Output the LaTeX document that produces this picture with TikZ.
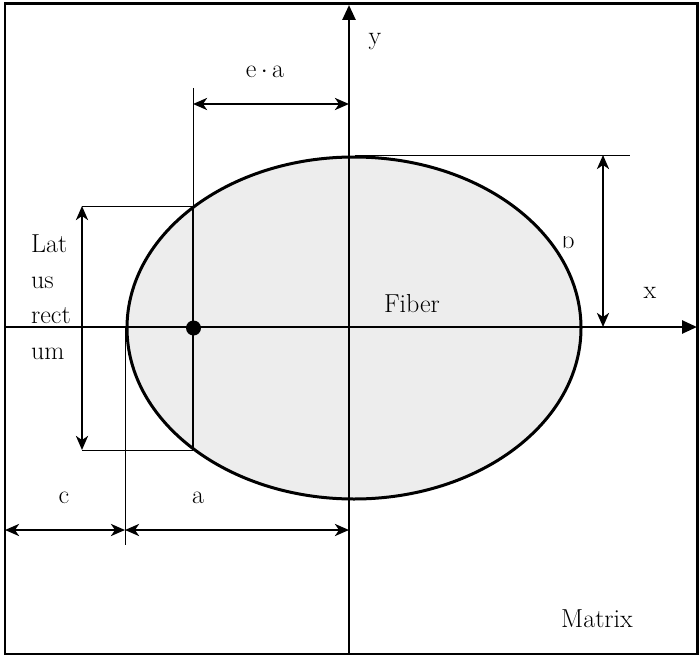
\documentclass[tikz,border=0pt]{standalone}
\usetikzlibrary{arrows.meta,shapes.geometric}
\begin{document}
\begin{tikzpicture}[x=1pt,y=-1pt,
  thick line/.style={line width=2.8pt},
  thin line/.style={line width=0.9pt},
  dimarrow/.style={line width=2.6pt,{Stealth[length=14pt,width=12pt,inset=4pt]}-{Stealth[length=14pt,width=12pt,inset=4pt]}},
  axis/.style={line width=2.6pt,-{Triangle[length=15pt,width=13pt]}},
  lbl/.style={font=\fontsize{26}{35.5}\selectfont,inner sep=0pt}]
\useasboundingbox (0,0) rectangle (700,658);
% frame
\draw[line width=2.8pt] (5,3.5) rectangle (697.5,654);
% fiber ellipse
\node[ellipse,draw,line width=3pt,fill={rgb,255:red,237;green,237;blue,237},
  minimum width=454pt,minimum height=342pt,inner sep=0pt] (fiber) at (354,328) {};
% coordinates
\coordinate (O) at (349,327);
\coordinate (xs) at (5,327);
\coordinate (xe) at (697,327);
\coordinate (ys) at (349,654);
\coordinate (ye) at (349,5);
\coordinate (F) at (193.5,328);
\coordinate (LRt) at (193,206);
\coordinate (LRb) at (193,450);
\coordinate (ext1) at (193,88);
\coordinate (ea1) at (193,104);
\coordinate (ea2) at (349,104);
\coordinate (lr1) at (82,206);
\coordinate (lr2) at (82,450);
\coordinate (cl) at (125,327);
\coordinate (clb) at (125,545);
\coordinate (c1) at (5,530);
\coordinate (c2) at (125,530);
\coordinate (a2) at (349,530);
\coordinate (bt) at (355,155);
\coordinate (bte) at (630,155);
\coordinate (b1) at (603,155);
\coordinate (b2) at (603,327);
% thin extension lines
\draw[thin line] (ext1) -- (LRt);
\draw[thin line] (lr1) -- (LRt);
\draw[thin line] (lr2) -- (LRb);
\draw[thin line] (cl) -- (clb);
\draw[thin line] (bt) -- (bte);
% latus rectum chord
\draw[thick line] (LRt) -- (LRb);
% axes
\draw[axis] (xs) -- (xe);
\draw[axis] (ys) -- (ye);
% focus
\fill (F) circle (7.5pt);
% dimension arrows
\draw[dimarrow] (ea1) -- (ea2);
\draw[dimarrow] (lr1) -- (lr2);
\draw[dimarrow] (c1) -- (c2);
\draw[dimarrow] (c2) -- (a2);
\draw[dimarrow] (b1) -- (b2);
% labels
\node[lbl,anchor=base] (lea) at (265,78) {e\,$\cdot$\,a};
\node[lbl,anchor=base] (ly) at (375,45) {y};
\node[lbl,anchor=base] (lx) at (650,298) {x};
\node[lbl,anchor=base] (lfib) at (412,312) {Fiber};
\node[lbl,anchor=base] (lmat) at (597,627) {Matrix};
\node[lbl,anchor=base] (lc) at (64,503) {c};
\node[lbl,anchor=base] (la) at (198,503) {a};
\node[lbl,anchor=west,align=left] (llr) at (31,297) {Lat\\us\\rect\\um};
\begin{scope}
\clip (540,236) rectangle (600,262);
\node[lbl,anchor=base] (lb) at (568,248) {b};
\end{scope}
\end{tikzpicture}
\end{document}
